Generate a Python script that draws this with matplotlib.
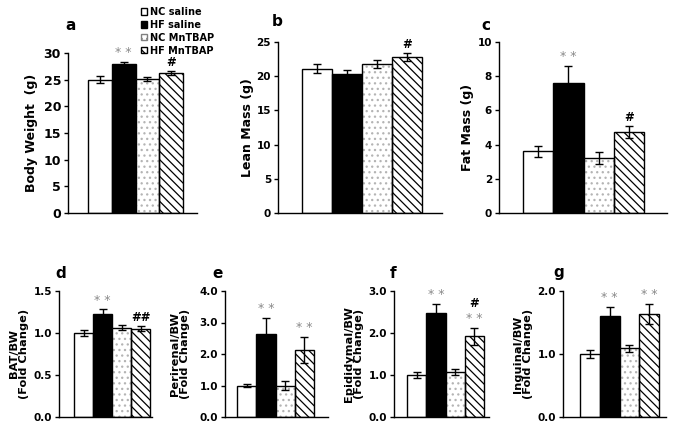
import matplotlib
matplotlib.use("Agg")
import matplotlib.pyplot as plt
from matplotlib.patches import Patch

plt.rcParams['font.family'] = ['DejaVu Sans']
plt.rcParams['font.weight'] = 'bold'
plt.rcParams['hatch.linewidth'] = 0.9

groups = ["NC saline", "HF saline", "NC MnTBAP", "HF MnTBAP"]

panels = ["a", "b", "c", "d", "e", "f", "g"]
ylabels = ["Body Weight  (g)", "Lean Mass (g)", "Fat Mass (g)",
           "BAT/BW\n(Fold Change)", "Perirenal/BW\n(Fold Change)",
           "Epididymal/BW\n(Fold Change)", "Inguinal/BW\n(Fold Change)"]
means = [
    [25.0, 28.0, 25.1, 26.3],
    [21.1, 20.3, 21.8, 22.8],
    [3.6, 7.6, 3.2, 4.75],
    [1.0, 1.23, 1.06, 1.05],
    [1.0, 2.65, 1.0, 2.12],
    [1.0, 2.47, 1.08, 1.92],
    [1.0, 1.60, 1.09, 1.64],
]
errors = [
    [0.6, 0.3, 0.4, 0.4],
    [0.7, 0.6, 0.6, 0.6],
    [0.3, 1.0, 0.35, 0.35],
    [0.04, 0.05, 0.03, 0.03],
    [0.06, 0.5, 0.15, 0.42],
    [0.06, 0.22, 0.07, 0.2],
    [0.07, 0.15, 0.06, 0.16],
]
yticks = [
    [0, 5, 10, 15, 20, 25, 30],
    [0, 5, 10, 15, 20, 25],
    [0, 2, 4, 6, 8, 10],
    [0.0, 0.5, 1.0, 1.5],
    [0.0, 1.0, 2.0, 3.0, 4.0],
    [0.0, 1.0, 2.0, 3.0],
    [0.0, 1.0, 2.0],
]
ytick_fmt = ["{:.0f}", "{:.0f}", "{:.0f}", "{:.1f}", "{:.1f}", "{:.1f}", "{:.1f}"]
stars = [
    {1: "* *"}, {}, {1: "* *"}, {1: "* *"}, {1: "* *", 3: "* *"},
    {1: "* *", 3: "* *"}, {1: "* *", 3: "* *"},
]
hashes = [
    {3: "#"}, {3: "#"}, {3: "#"}, {3: "##"}, {}, {3: "#"}, {},
]

W, H = 676, 425
# pixel layout: axis left, axis right, top, bottom, bars left, bars right
boxes = [
    (68, 197, 53, 213, 88, 183),
    (278, 442, 42, 213, 302, 422),
    (499, 667, 42, 213, 523, 644),
    (59, 152, 291, 417, 74, 150),
    (225, 328, 291, 417, 237, 314),
    (394, 489, 291, 417, 407, 484),
    (563, 666, 291, 417, 580, 659),
]
label_pos = [(65, 25), (272, 22), (481, 25), (55, 273), (212, 273), (390, 273), (553, 273)]
ylab_x = [32, 248, 467, 19, 180, 354, 523]
tick_sizes = [9, 7.5, 7.5, 7.5, 7.5, 7.5, 7.5]

fig = plt.figure(figsize=(W / 100, H / 100), dpi=100)

for i in range(7):
    l, r, t, b, bl, br = boxes[i]
    ax = fig.add_axes([l / W, 1 - b / H, (r - l) / W, (b - t) / H])
    sc = (br - bl) / 4.0
    ax.set_xlim(-0.5 - (bl - l) / sc, 3.5 + (r - br) / sc)
    ax.set_ylim(yticks[i][0], yticks[i][-1])
    x = list(range(4))
    m = means[i]
    e = errors[i]
    ax.bar(0, m[0], width=1.0, color="white", edgecolor="black", linewidth=1.0, zorder=2)
    ax.bar(1, m[1], width=1.0, color="black", edgecolor="black", linewidth=1.0, zorder=2)
    ax.bar(2, m[2], width=1.0, color="white", edgecolor="#b4b4b4", hatch="...", linewidth=0, zorder=2)
    ax.bar(2, m[2], width=1.0, color="none", edgecolor="black", linewidth=1.0, zorder=3)
    ax.bar(3, m[3], width=1.0, color="white", edgecolor="black", hatch="\\\\\\\\", linewidth=1.0, zorder=2)
    ax.errorbar(x, m, yerr=e, fmt="none", ecolor="black", elinewidth=1.0, capsize=3.2, capthick=1.0, zorder=4)
    for k, s in stars[i].items():
        ax.annotate(s, (k, m[k] + e[k]), xytext=(0, 2), textcoords="offset points",
                    ha="center", va="bottom", color="#8a8a8a", fontsize=9, fontweight="normal")
    for k, s in hashes[i].items():
        yoff = 13 if k in stars[i] else 1.5
        ax.annotate(s, (k, m[k] + e[k]), xytext=(0, yoff), textcoords="offset points",
                    ha="center", va="bottom", color="black", fontsize=8.5, fontweight="bold")
    for sp in ["top", "right"]:
        ax.spines[sp].set_visible(False)
    ax.spines["left"].set_linewidth(1.0)
    ax.spines["bottom"].set_linewidth(1.0)
    ax.set_xticks([])
    ax.set_yticks(yticks[i])
    ax.set_yticklabels([ytick_fmt[i].format(v) for v in yticks[i]])
    ax.tick_params(axis="y", direction="out", length=3, width=1.0, labelsize=tick_sizes[i], pad=2)
    fig.text(ylab_x[i] / W, 1 - ((t + b) / 2) / H, ylabels[i], rotation=90, ha="center", va="center",
             fontsize=9 if i < 3 else 8.2, fontweight="bold", linespacing=0.92)
    lx, ly = label_pos[i]
    fig.text(lx / W, 1 - ly / H, panels[i], ha="left", va="center", fontsize=11, fontweight="bold")

handles = [
    Patch(facecolor="white", edgecolor="black", linewidth=1.0),
    Patch(facecolor="black", edgecolor="black", linewidth=1.0),
    Patch(facecolor="white", edgecolor="#808080", hatch="...", linewidth=1.0),
    Patch(facecolor="white", edgecolor="black", hatch="\\\\\\\\", linewidth=1.0),
]
fig.legend(handles, groups, loc="upper left", bbox_to_anchor=(141 / W, 1 - 7 / H), frameon=False,
           handlelength=0.6, handleheight=0.6, handletextpad=0.3, labelspacing=0.3,
           borderpad=0, borderaxespad=0, prop={"weight": "bold", "size": 7})

fig.savefig("out.png", dpi=100)
